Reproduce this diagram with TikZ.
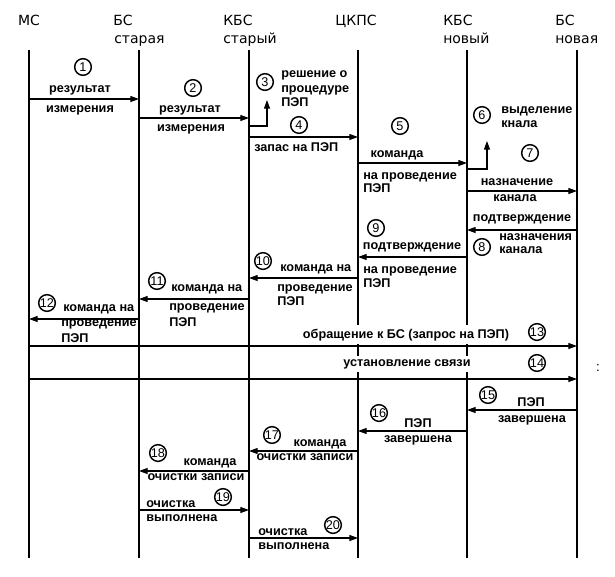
\documentclass[tikz,border=0pt]{standalone}
\usepackage{fontspec}
\setmainfont{Liberation Sans}
\newfontfamily\hdrfont{DejaVu Sans}
\usetikzlibrary{arrows.meta}

\begin{document}
\begin{tikzpicture}[x=0.75pt,y=-0.75pt,
        life/.style={line width=1.2pt},
        msg/.style={line width=0.8pt,-{Triangle[length=6.5pt,width=4.5pt]}},
        hdr/.style={font=\hdrfont\fontsize{10.5}{12}\selectfont,inner sep=0pt},
        lbl/.style={font=\bfseries\fontsize{9.5}{11}\selectfont,inner sep=0pt},
        num/.style={draw,circle,line width=1.1pt,minimum size=12.5pt,inner sep=0pt,
            font=\fontsize{9.5}{9.5}\selectfont}]
        \useasboundingbox (0,0) rectangle (615,576);
        %% headers
        \node[hdr,anchor=base] (hms) at (29,25) {МС};
        \node[hdr,anchor=base west] (hbso) at (113,25) {БС};
        \node[hdr,anchor=base west] (hbso2) at (114,43) {старая};
        \node[hdr,anchor=base west] (hkbso) at (223,25) {КБС};
        \node[hdr,anchor=base west] (hkbso2) at (223,43) {старый};
        \node[hdr,anchor=base] (hck) at (356,25) {ЦКПС};
        \node[hdr,anchor=base west] (hkbsn) at (443,25) {КБС};
        \node[hdr,anchor=base west] (hkbsn2) at (443,43) {новый};
        \node[hdr,anchor=base west] (hbsn) at (555,25) {БС};
        \node[hdr,anchor=base west] (hbsn2) at (555,43) {новая};
        %% lifelines
        \coordinate (ms) at (29,50);
        \coordinate (bso) at (139,50);
        \coordinate (kbso) at (249,50);
        \coordinate (ck) at (358,50);
        \coordinate (kbsn) at (467,50);
        \coordinate (bsn) at (577,50);
        \draw[life] (ms) -- ++(0,508);
        \draw[life] (bso) -- ++(0,508);
        \draw[life] (kbso) -- ++(0,508);
        \draw[life] (ck) -- ++(0,508);
        \draw[life] (kbsn) -- ++(0,508);
        \draw[life] (bsn) -- ++(0,508);
        %% 1
        \node[num] (n1) at (83,67) {1};
        \node[lbl,anchor=base] (l1a) at (80,92) {результат};
        \draw[msg] (ms |- 0,99) -- (bso |- 0,99);
        \node[lbl,anchor=base] (l1b) at (80,112) {измерения};
        %% 2
        \node[num] (n2) at (193,88) {2};
        \node[lbl,anchor=base] (l2a) at (190,112) {результат};
        \draw[msg] (bso |- 0,118) -- (kbso |- 0,118);
        \node[lbl,anchor=base] (l2b) at (191,131) {измерения};
        %% 3
        \node[num] (n3) at (265,82) {3};
        \node[lbl,anchor=base west] (l3a) at (281,77) {решение о};
        \node[lbl,anchor=base west] (l3b) at (281,92) {процедуре};
        \node[lbl,anchor=base west] (l3c) at (281,106) {ПЭП};
        \coordinate (t3) at (267,100);
        \draw[msg] (kbso |- 0,126) -| (t3);
        %% 4
        \node[num] (n4) at (299,125) {4};
        \draw[msg] (kbso |- 0,137) -- (ck |- 0,137);
        \node[lbl,anchor=base west] (l4) at (254,151) {запас на ПЭП};
        %% 5
        \node[num] (n5) at (400,126) {5};
        \node[lbl,anchor=base] (l5a) at (397,157) {команда};
        \draw[msg] (ck |- 0,163) -- (kbsn |- 0,163);
        \node[lbl,anchor=base west] (l5b) at (363,179) {на проведение};
        \node[lbl,anchor=base west] (l5c) at (363,192) {ПЭП};
        %% 6
        \node[num] (n6) at (482,115) {6};
        \node[lbl,anchor=base west] (l6a) at (501,113) {выделение};
        \node[lbl,anchor=base west] (l6b) at (501,127) {кнала};
        \coordinate (t6) at (487,141);
        \draw[msg] (kbsn |- 0,169) -| (t6);
        %% 7
        \node[num] (n7) at (530,153) {7};
        \node[lbl,anchor=base] (l7a) at (517,185) {назначение};
        \draw[msg] (kbsn |- 0,191) -- (bsn |- 0,191);
        \node[lbl,anchor=base] (l7b) at (515,201) {канала};
        %% 8
        \node[lbl,anchor=base] (l8a) at (522,221) {подтверждение};
        \draw[msg] (bsn |- 0,230) -- (kbsn |- 0,230);
        \node[num] (n8) at (482,247) {8};
        \node[lbl,anchor=base west] (l8b) at (499,240) {назначения};
        \node[lbl,anchor=base west] (l8c) at (499,253) {канала};
        %% 9
        \node[num] (n9) at (376,228) {9};
        \node[lbl,anchor=base] (l9a) at (412,249) {подтверждение};
        \draw[msg] (kbsn |- 0,257) -- (ck |- 0,257);
        \node[lbl,anchor=base west] (l9b) at (363,273) {на проведение};
        \node[lbl,anchor=base west] (l9c) at (363,287) {ПЭП};
        %% 10
        \node[num] (n10) at (263,261) {10};
        \node[lbl,anchor=base west] (l10a) at (280,271) {команда на};
        \draw[msg] (ck |- 0,278) -- (kbso |- 0,278);
        \node[lbl,anchor=base west] (l10b) at (277,291) {проведение};
        \node[lbl,anchor=base west] (l10c) at (277,305) {ПЭП};
        %% 11
        \node[num] (n11) at (157,281) {11};
        \node[lbl,anchor=base west] (l11a) at (171,291) {команда на};
        \draw[msg] (kbso |- 0,299) -- (bso |- 0,299);
        \node[lbl,anchor=base west] (l11b) at (169,310) {проведение};
        \node[lbl,anchor=base west] (l11c) at (169,326) {ПЭП};
        %% 12
        \node[num] (n12) at (47,303) {12};
        \node[lbl,anchor=base west] (l12a) at (63,311) {команда на};
        \draw[msg] (bso |- 0,319) -- (ms |- 0,319);
        \node[lbl,anchor=base west] (l12b) at (61,326) {проведение};
        \node[lbl,anchor=base west] (l12c) at (61,342) {ПЭП};
        %% 13
        \node[lbl,anchor=base,fill=white,inner xsep=2pt,inner ysep=2.5pt] (l13) at (406,338) {обращение к БС (запрос на ПЭП)};
        \node[num] (n13) at (537,332) {13};
        \draw[msg] (ms |- 0,346) -- (bsn |- 0,346);
        %% 14
        \node[lbl,anchor=base,fill=white,inner xsep=2pt,inner ysep=2.5pt] (l14) at (407,366) {установление связи};
        \node[num] (n14) at (537,363) {14};
        \draw[msg] (ms |- 0,379) -- (bsn |- 0,379);
        \node[inner sep=0pt] (dots) at (598,368) {:};
        %% 15
        \node[num] (n15) at (488,395) {15};
        \node[lbl,anchor=base] (l15a) at (531,406) {ПЭП};
        \draw[msg] (bsn |- 0,410) -- (kbsn |- 0,410);
        \node[lbl,anchor=base] (l15b) at (532,422) {завершена};
        %% 16
        \node[num] (n16) at (379,413) {16};
        \node[lbl,anchor=base] (l16a) at (418,427) {ПЭП};
        \draw[msg] (kbsn |- 0,431) -- (ck |- 0,431);
        \node[lbl,anchor=base] (l16b) at (418,442) {завершена};
        %% 17
        \node[num] (n17) at (272,435) {17};
        \node[lbl,anchor=base] (l17a) at (320,446) {команда};
        \draw[msg] (ck |- 0,451) -- (kbso |- 0,451);
        \node[lbl,anchor=base] (l17b) at (305,460) {очистки записи};
        %% 18
        \node[num] (n18) at (158,453) {18};
        \node[lbl,anchor=base] (l18a) at (210,465) {команда};
        \draw[msg] (kbso |- 0,471) -- (bso |- 0,471);
        \node[lbl,anchor=base] (l18b) at (196,480) {очистки записи};
        %% 19
        \node[num] (n19) at (223,497) {19};
        \node[lbl,anchor=base west] (l19a) at (146,507) {очистка};
        \draw[msg] (bso |- 0,510) -- (kbso |- 0,510);
        \node[lbl,anchor=base west] (l19b) at (146,521) {выполнена};
        %% 20
        \node[num] (n20) at (333,525) {20};
        \node[lbl,anchor=base west] (l20a) at (258,535) {очистка};
        \draw[msg] (kbso |- 0,538) -- (ck |- 0,538);
        \node[lbl,anchor=base west] (l20b) at (258,549) {выполнена};
    \end{tikzpicture}
\end{document}
